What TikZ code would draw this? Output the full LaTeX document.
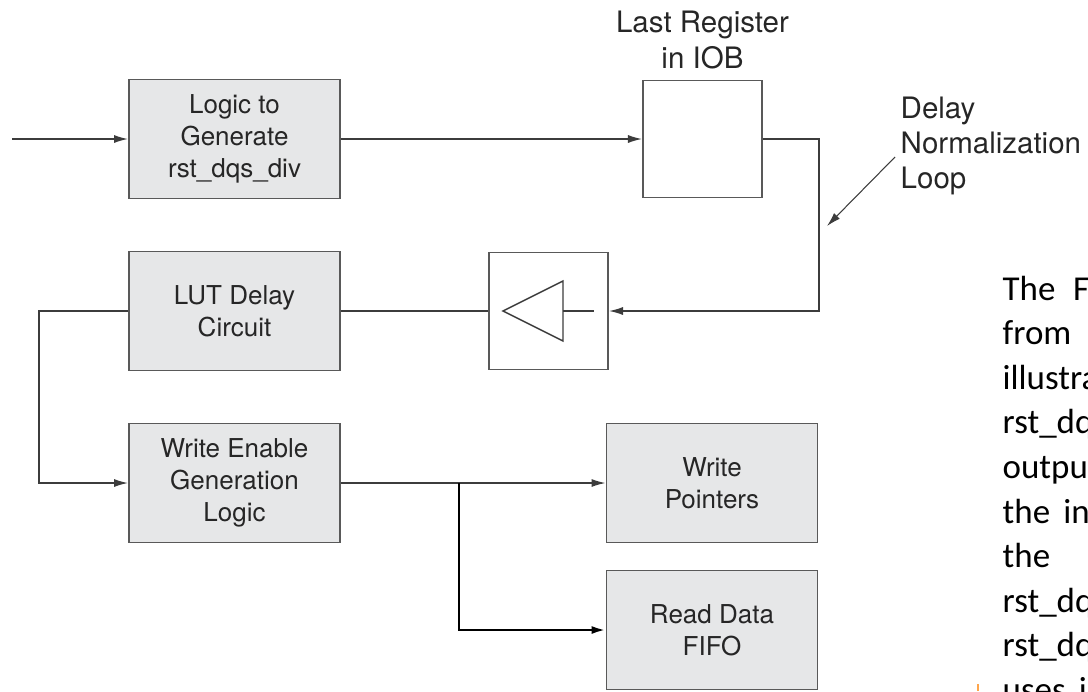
\documentclass[tikz,border=0pt]{standalone}
\usepackage{fontspec}
\setmainfont{TeX Gyre Heros}
\newfontfamily\bodyfont{Carlito}
\usetikzlibrary{arrows.meta}
\definecolor{boxgray}{HTML}{E6E7E8}
\definecolor{wire}{HTML}{3C3C3C}
\tikzset{
  blk/.style={draw=wire!85,line width=1.1pt,fill=boxgray,minimum width=4.22cm,minimum height=2.38cm,
    align=center,font=\fontsize{14.8}{18.4}\selectfont,text=black!85},
  regbox/.style={draw=wire!85,line width=1.1pt,fill=white,minimum width=2.38cm,minimum height=2.34cm},
  lbl/.style={font=\fontsize{16.8}{20}\selectfont,text=black!85,inner sep=0pt},
}

\begin{document}
\begin{tikzpicture}[x=0.02cm,y=-0.02cm,>={Latex[length=8pt,width=4.6pt]},line width=0.8pt]
\useasboundingbox (0,0) rectangle (1088,691);
% blocks
\node[blk] (gen) at (234.5,139) {Logic to\\Generate\\rst\_dqs\_div};
\node[regbox] (iob) at (702.5,139) {};
\node[lbl,align=center] (ioblbl) at (702.5,40) {Last Register\\in IOB};
\node[blk] (lut) at (234.5,311) {LUT Delay\\Circuit};
\node[regbox] (buf) at (548.5,311) {};
\node[blk] (we) at (234.5,483) {Write Enable\\Generation\\Logic};
\node[blk] (wp) at (712,483) {Write\\Pointers};
\node[blk] (fifo) at (712,630) {Read Data\\FIFO};
\node[lbl,align=left,anchor=west] (dnl) at (900,146) {Delay\\Normalization\\Loop};
% buffer symbol
\draw[wire,line join=miter] (buf.center) ++(-45.5,0) -- ++(60,-30) -- ++(0,60) -- cycle;
\draw[wire] (buf.center) ++(14.5,0) -- ++(31,0);
% wires
\coordinate (in) at (12,139);
\coordinate (split) at (459,483);
\coordinate (lead) at (895,157);
\coordinate (loophit) at (827,226);
\draw[->,wire] (in) -- (gen);
\draw[->,wire] (gen) -- (iob);
\draw[->,wire] (iob.east) -- ++(56,0) |- (buf.east);
\draw[wire] (lut) -- (buf);
\draw[->,wire] (lut.west) -- ++(-89,0) |- (we.west);
\draw[->,wire] (we) -- (wp);
\draw[->,black,line width=1.4pt] (split) |- (fifo.west);
\draw[->,wire,line width=0.6pt] (lead) -- (loophit);
% cut-off body text at the right edge
\begin{scope}
\clip (0,0) rectangle (1088,691);
\foreach \bodyline [count=\k from 0] in {The\hspace{10pt}F,from,illustra,rst\_dq,outpu,
  the\hspace{7.5pt}in,the,rst\_dq,rst\_dq,uses\hspace{7.5pt}i}
  \node[anchor=base west,inner sep=0pt,font=\bodyfont\fontsize{19.9}{25}\selectfont] (body\k)
    at (1002,{300+44.6*\k}) {\bodyline};
\draw[orange!70,line width=1pt] (978,684) -- (978,691);
\end{scope}
\end{tikzpicture}
\end{document}
